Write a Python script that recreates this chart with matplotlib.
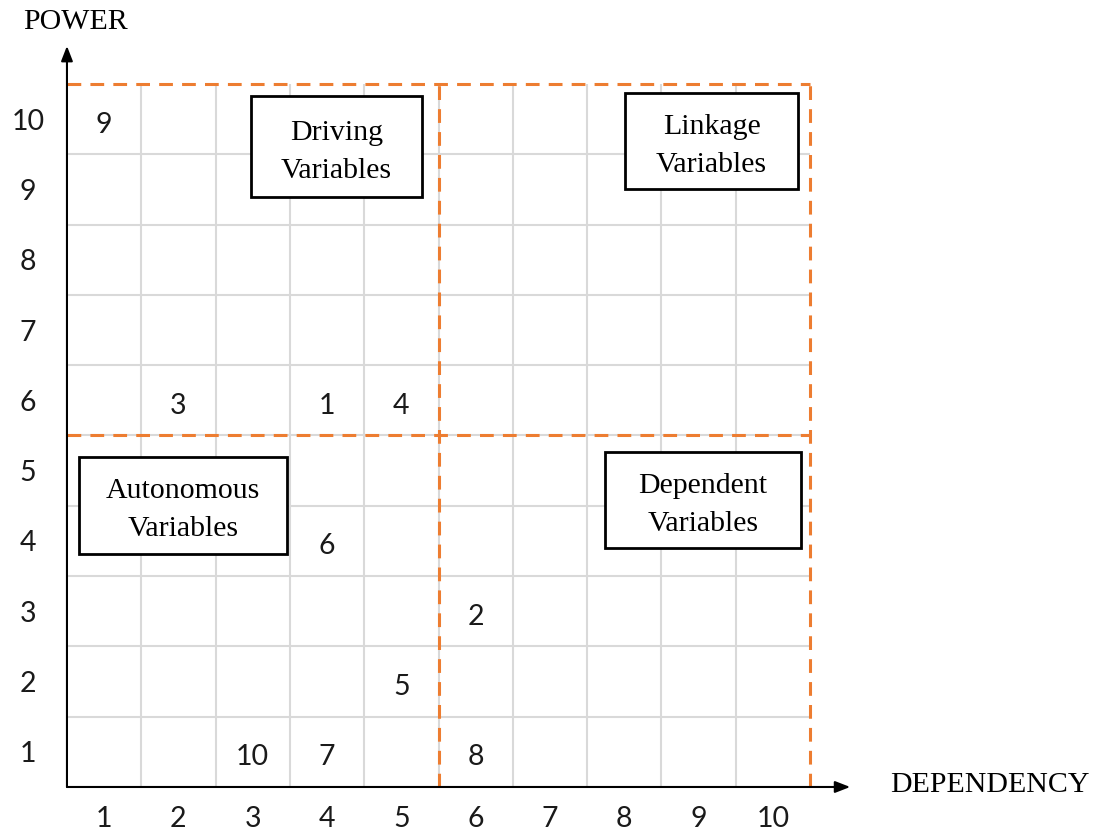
import matplotlib
matplotlib.use("Agg")
import matplotlib.pyplot as plt
from matplotlib.patches import Rectangle
from matplotlib.transforms import offset_copy

# MICMAC data: variable id, dependency (x), driving power (y)
var_ids = [1, 2, 3, 4, 5, 6, 7, 8, 9, 10]
dependency = [4, 6, 2, 5, 5, 4, 4, 6, 1, 3]
power = [6, 3, 6, 6, 2, 4, 1, 1, 10, 1]

ticks = [1, 2, 3, 4, 5, 6, 7, 8, 9, 10]

quadrant_names = ["Driving\nVariables", "Linkage\nVariables",
                  "Autonomous\nVariables", "Dependent\nVariables"]
# box extents in data units (x0, x1, y0, y1)
quadrant_boxes = [(2.98, 5.28, 8.89, 10.33), (8.01, 10.34, 9.0, 10.37),
                  (0.66, 3.46, 3.82, 5.20), (7.74, 10.38, 3.90, 5.27)]

orange = "#ED7D31"
grid_col = "#D9D9D9"
serif = "Liberation Serif"
sans = "Lato"
num_size = 20.5

fig = plt.figure(figsize=(10.96, 8.32), dpi=100)
ax = fig.add_axes([0.0611, 0.0541, 0.678, 0.845])
ax.set_xlim(0.5, 10.5)
ax.set_ylim(0.5, 10.5)

for s in ax.spines.values():
    s.set_visible(False)

# light grid between cells
ax.set_xticks([t + 0.5 for t in ticks[:-1]], minor=True)
ax.set_yticks([t + 0.5 for t in ticks[:-1]], minor=True)
ax.grid(which="minor", color=grid_col, lw=1.5)
ax.tick_params(which="both", length=0)

ax.set_xticks(ticks)
ax.set_yticks(ticks)
ax.set_xticklabels([str(t) for t in ticks], fontfamily=sans, fontsize=num_size, color="#1a1a1a")
ax.set_yticklabels([str(t) for t in ticks], fontfamily=sans, fontsize=num_size, color="#1a1a1a")
ax.tick_params(axis="x", pad=14)
ax.tick_params(axis="y", pad=28)
for lab in ax.get_yticklabels():
    lab.set_ha("center")
    lab.set_va("center_baseline")

# orange dashed quadrant lines and outer border
dash = (4.5, 3)
for v in [5.5, 10.5]:
    ax.plot([v, v], [0.5, 10.5], color=orange, lw=2.2, dashes=dash, clip_on=False, zorder=3)
    ax.plot([0.5, 10.5], [v, v], color=orange, lw=2.2, dashes=dash, clip_on=False, zorder=3)

# axes with arrows
arrow = dict(arrowstyle="-|>,head_length=0.9,head_width=0.35", color="black", lw=1.5,
             shrinkA=0, shrinkB=0)
ax.annotate("", xy=(0.5, 11.04), xytext=(0.5, 0.5), arrowprops=arrow,
            annotation_clip=False, zorder=4)
ax.annotate("", xy=(11.04, 0.5), xytext=(0.5, 0.5), arrowprops=arrow,
            annotation_clip=False, zorder=4)

# variable numbers (sit slightly below cell centre, as in the source)
num_tr = offset_copy(ax.transData, fig=fig, x=0, y=-3, units="dots")
for vid, x, y in zip(var_ids, dependency, power):
    ax.text(x, y, str(vid), ha="center", va="center_baseline", fontfamily=sans,
            fontsize=num_size, color="#1a1a1a", zorder=5, transform=num_tr)

# quadrant boxes
box_tr = offset_copy(ax.transData, fig=fig, x=0, y=-5, units="dots")
for name, (x0, x1, y0, y1) in zip(quadrant_names, quadrant_boxes):
    ax.add_patch(Rectangle((x0, y0), x1 - x0, y1 - y0, facecolor="white",
                           edgecolor="black", lw=2, zorder=6))
    ax.text((x0 + x1) / 2, (y0 + y1) / 2, name, ha="center", va="center",
            fontfamily=serif, fontsize=21.5, linespacing=1.6, zorder=7,
            transform=box_tr)

fig.text(75 / 1096, 1 - 22 / 832, "POWER", ha="center", va="center",
         fontfamily=serif, fontsize=21.5)
fig.text(890 / 1096, 1 - 785 / 832, "DEPENDENCY", ha="left", va="center",
         fontfamily=serif, fontsize=21.5)

fig.savefig("out.png", dpi=100, facecolor="white")
